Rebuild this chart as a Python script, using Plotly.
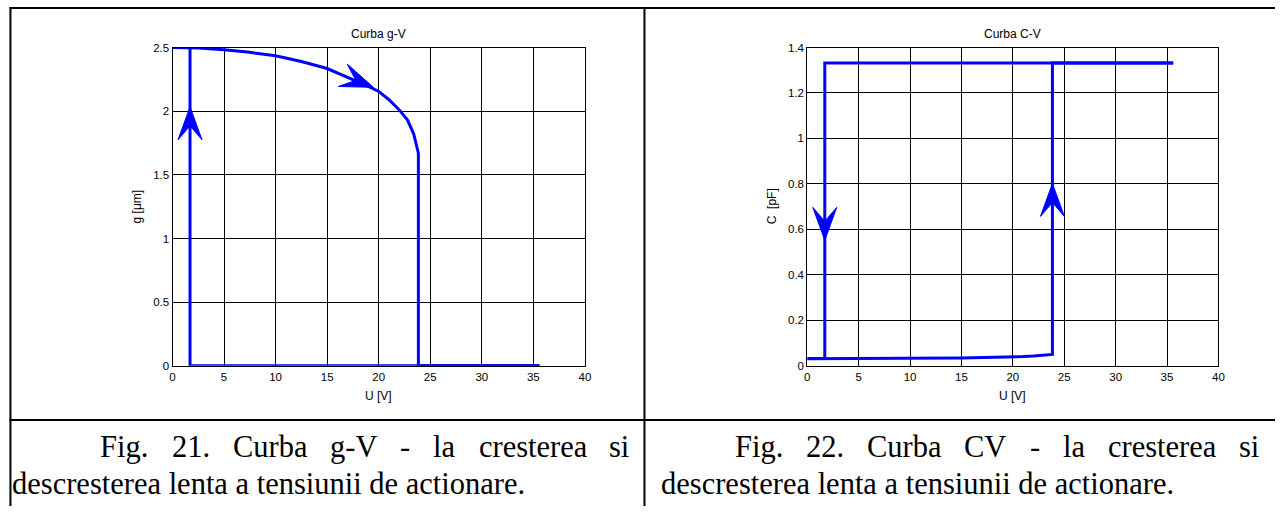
import math
import plotly.graph_objects as go

W, H = 1281, 512

# ---- g-V curve (gap vs. actuation voltage) ----
# voltage increasing: gap closes slowly, then pull-in collapse at ~23.85 V
u_gv_up = [0, 2.5, 5, 7.5, 10, 12.5, 15, 17.5, 19, 20, 21, 22, 22.8, 23.4, 23.7, 23.85, 23.85, 35.6]
g_gv_up = [2.5, 2.496, 2.483, 2.462, 2.435, 2.39, 2.335, 2.25, 2.195, 2.155, 2.09, 2.01, 1.93, 1.82, 1.73, 1.67, 0, 0]
# voltage decreasing: stays closed until release at ~1.7 V
u_gv_dn = [35.6, 1.7, 1.7, 0]
g_gv_dn = [0, 0, 2.5, 2.5]

# ---- C-V curve (capacitance vs. actuation voltage) ----
u_cv_up = [0, 5, 9.3, 15, 18.4, 20, 21, 22, 23, 23.5, 23.85, 23.85, 35.6]
c_cv_up = [0.031, 0.031, 0.034, 0.035, 0.037, 0.039, 0.041, 0.043, 0.046, 0.048, 0.050, 1.332, 1.332]
u_cv_dn = [35.6, 1.7, 1.7, 0]
c_cv_dn = [1.332, 1.332, 0.032, 0.032]

# direction arrows: (voltage, value, direction in degrees on screen)
arrows_gv = [(1.7, 2.034, 90), (19.5, 2.187, -21.5)]
arrows_cv = [(1.7, 0.552, -90), (23.85, 0.802, 90)]

titles = ["Curba g-V", "Curba C-V"]
y_titles = ["g [μm]", "C  [pF]"]
x_title = "U [V]"
y_ranges = [[0, 2.5], [0, 1.4]]
y_steps = [0.5, 0.2]

captions = [
    ["Fig. 21. Curba g-V - la cresterea si", "descresterea lenta a tensiunii de actionare."],
    ["Fig. 22. Curba CV - la cresterea si", "descresterea lenta a tensiunii de actionare."],
]

BLUE = "#0000FF"
SANS = "Liberation Sans, Arial, sans-serif"
SERIF = "Liberation Serif, Times New Roman, serif"

# plot-area pixel boxes (left, right, top, bottom)
boxes = [(170.7, 586.0, 42.5, 368.5), (810.0, 1224.0, 42.5, 368.5)]


def px_x(x):
    return x / W


def px_y(y):
    return 1 - y / H


fig = go.Figure()
line_style = dict(color=BLUE, width=3)
fig.add_trace(go.Scatter(x=u_gv_up, y=g_gv_up, mode="lines", line=line_style, xaxis="x", yaxis="y"))
fig.add_trace(go.Scatter(x=u_gv_dn, y=g_gv_dn, mode="lines", line=line_style, xaxis="x", yaxis="y"))
fig.add_trace(go.Scatter(x=u_cv_up, y=c_cv_up, mode="lines", line=line_style, xaxis="x2", yaxis="y2"))
fig.add_trace(go.Scatter(x=u_cv_dn, y=c_cv_dn, mode="lines", line=line_style, xaxis="x2", yaxis="y2"))


def arrow_path(angle_deg, length=33.0, half=12.0, notch=19.0):
    a = math.radians(angle_deg)
    ca, sa = math.cos(a), math.sin(a)
    pts = [(0, 0), (-length, half), (-notch, 0), (-length, -half)]
    rot = [(x * ca - y * sa, x * sa + y * ca) for x, y in pts]
    return "M" + "L".join(f"{x:.2f},{y:.2f}" for x, y in rot) + "Z"


shapes = []
for (arrows, xr, yr) in [(arrows_gv, "x", "y"), (arrows_cv, "x2", "y2")]:
    for u, v, ang in arrows:
        shapes.append(dict(type="path", xref=xr, yref=yr, xsizemode="pixel", ysizemode="pixel",
                           xanchor=u, yanchor=v, path=arrow_path(ang),
                           fillcolor=BLUE, line=dict(color=BLUE, width=1), layer="above"))

# table frame around the two figures and their captions
frame = dict(color="black", width=2)
shapes += [
    dict(type="line", xref="paper", yref="paper", x0=px_x(6.5), x1=1, y0=px_y(2), y1=px_y(2), line=frame),
    dict(type="line", xref="paper", yref="paper", x0=px_x(7.5), x1=px_x(7.5), y0=px_y(1), y1=0, line=frame),
    dict(type="line", xref="paper", yref="paper", x0=px_x(646), x1=px_x(646), y0=px_y(1), y1=0, line=frame),
    dict(type="line", xref="paper", yref="paper", x0=px_x(6.5), x1=1, y0=px_y(424), y1=px_y(424), line=frame),
]

annotations = []
for i, (l, r, t, b) in enumerate(boxes):
    cx = (l + r) / 2
    cy = (t + b) / 2
    annotations.append(dict(text=titles[i], x=px_x(cx), y=px_y(28.5), xref="paper", yref="paper",
                            showarrow=False, xanchor="center", yanchor="middle",
                            font=dict(family=SANS, size=12, color="black")))
    annotations.append(dict(text=x_title, x=px_x(cx), y=px_y(399.5), xref="paper", yref="paper",
                            showarrow=False, xanchor="center", yanchor="middle",
                            font=dict(family=SANS, size=12, color="black")))
    annotations.append(dict(text=y_titles[i], x=px_x(l - 36), y=px_y(cy), xref="paper", yref="paper",
                            showarrow=False, xanchor="center", yanchor="middle", textangle=-90,
                            font=dict(family=SANS, size=12, color="black")))

# Times-compatible advance widths (per 1000 em) for the caption glyphs
ADV = {"F": 556, "i": 278, "g": 500, ".": 250, " ": 250, "1": 500, "2": 500, "C": 667,
       "u": 500, "r": 333, "b": 500, "a": 444, "-": 333, "V": 722, "l": 278, "c": 444,
       "e": 444, "s": 389, "t": 278, "d": 500, "n": 500, "o": 500}
CAP_SIZE = 30.5


def text_width(s, size):
    return sum(ADV.get(ch, 500) for ch in s) * size / 1000.0


def justified_words(line, left, right, y_mid, size):
    words = line.split(" ")
    widths = [text_width(w, size) for w in words]
    gap = (right - left - sum(widths)) / (len(words) - 1)
    x = left
    out = []
    for w, wd in zip(words, widths):
        out.append(dict(text=w, x=px_x(x), y=px_y(y_mid), xref="paper", yref="paper",
                        showarrow=False, xanchor="left", yanchor="middle", borderpad=0,
                        font=dict(family=SERIF, size=size, color="black")))
        x += wd + gap
    return out


line1_y, line2_y = 451.5, 489.5
cells = [(97, 630, 8.5), (736, 1264, 662)]
for (first, second), (l1, r1, l2) in zip(captions, cells):
    annotations += justified_words(first, l1, r1, line1_y, CAP_SIZE)
    annotations.append(dict(text=second, x=px_x(l2), y=px_y(line2_y), xref="paper", yref="paper",
                            showarrow=False, xanchor="left", yanchor="middle", borderpad=0,
                            font=dict(family=SERIF, size=CAP_SIZE, color="black")))

axis_common = dict(showgrid=True, gridcolor="black", gridwidth=1, zeroline=False,
                   showline=True, linecolor="black", linewidth=1, mirror=True,
                   ticks="", tickfont=dict(family=SANS, size=11.5, color="black"))

fig.update_layout(
    width=W, height=H, autosize=False,
    margin=dict(l=0, r=0, t=0, b=0),
    paper_bgcolor="white", plot_bgcolor="white",
    showlegend=False,
    xaxis=dict(domain=[px_x(boxes[0][0]), px_x(boxes[0][1])], range=[0, 40], dtick=5, anchor="y", **axis_common),
    yaxis=dict(domain=[px_y(boxes[0][3]), px_y(boxes[0][2])], range=y_ranges[0], dtick=y_steps[0], anchor="x", **axis_common),
    xaxis2=dict(domain=[px_x(boxes[1][0]), px_x(boxes[1][1])], range=[0, 40], dtick=5, anchor="y2", **axis_common),
    yaxis2=dict(domain=[px_y(boxes[1][3]), px_y(boxes[1][2])], range=y_ranges[1], dtick=y_steps[1], anchor="x2", **axis_common),
    shapes=shapes,
    annotations=annotations,
)

fig.write_html("out.html")
